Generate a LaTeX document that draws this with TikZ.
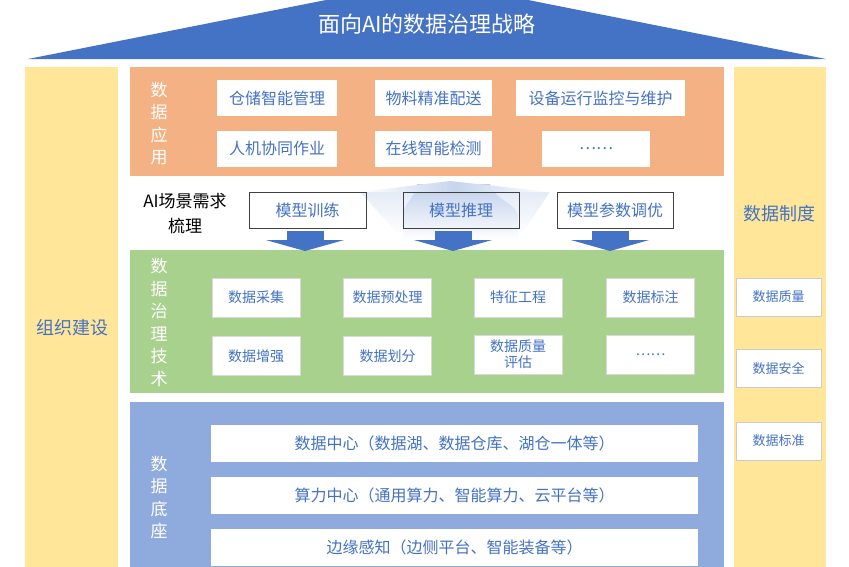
\documentclass[tikz,border=0pt]{standalone}
\usepackage{fontspec}
\setmainfont{Noto Sans CJK SC}
\usepackage{tikz}
\usetikzlibrary{
    arrows.meta,
    calc,
    positioning
}
\definecolor{roofblue}{HTML}{4472C4}
\definecolor{apporange}{HTML}{F4B183}
\definecolor{govgreen}{HTML}{A9D18E}
\definecolor{baseblue}{HTML}{8FAADC}
\definecolor{sideyellow}{HTML}{FFE699}
\definecolor{textblue}{HTML}{4472C4}
\definecolor{glowblue}{HTML}{B4C7E7}

\begin{document}
\begin{tikzpicture}[x=1pt, y=-1pt,
    appbox/.style={fill=white, text=textblue, minimum height=36pt, inner sep=0pt, font=\fontsize{16}{18}\selectfont},
    modelbox/.style={draw=black!75, line width=1pt, text=textblue, minimum width=116pt, minimum height=36pt, inner sep=0pt, font=\fontsize{16}{18}\selectfont},
    techbox/.style={fill=white, draw=black!15, text=textblue, minimum width=88pt, minimum height=39pt, inner sep=0pt, align=center, font=\fontsize{14}{16}\selectfont},
    basebar/.style={fill=white, text=textblue, minimum width=487pt, minimum height=37pt, inner sep=0pt, font=\fontsize{16}{18}\selectfont},
    rulebox/.style={fill=white, draw=black!20, text=textblue, minimum width=85pt, minimum height=38pt, inner sep=0pt, font=\fontsize{13}{15}\selectfont},
    sidelabel/.style={text=textblue, font=\fontsize{18}{20}\selectfont},
    layerlabel/.style={text=white, align=center, inner sep=0pt, font=\fontsize{17}{22.5}\selectfont},
    bigarrow/.style={roofblue, line width=37pt, -{Triangle[width=78pt, length=11pt]}}
]
    \useasboundingbox (0,0) rectangle (849,566);
    \fill[white] (0,0) rectangle (849,566);
    \clip (0,0) rectangle (849,566);

    \fill[roofblue] (28,59) -- (427,-20) -- (826,59) -- cycle;
    \node[text=white, font=\fontsize{22}{24}\selectfont] (title) at (427,24) {面向AI的数据治理战略};

    \fill[sideyellow] (25,67) rectangle (118,600);
    \fill[sideyellow] (734,67) rectangle (826,600);
    \node[sidelabel] (org) at (72,328) {组织建设};
    \node[sidelabel] (rules) at (779,214) {数据制度};
    \node[rulebox] (quality) at (778.5,297) {数据质量};
    \node[rulebox] (security) at (778.5,368) {数据安全};
    \node[rulebox] (standard) at (778.5,441) {数据标准};

    \fill[apporange] (130,67) rectangle (724,176);
    \node[layerlabel] (applab) at (159,123.5) {数\\据\\应\\用};
    \node[appbox, minimum width=120pt] (storage) at (277,98) {仓储智能管理};
    \node[appbox, minimum width=117pt] (material) at (433.5,98) {物料精准配送};
    \node[appbox, minimum width=169pt] (device) at (600.5,98) {设备运行监控与维护};
    \node[appbox, minimum width=120pt] (humanbot) at (277,148.5) {人机协同作业};
    \node[appbox, minimum width=117pt] (inspect) at (433.5,148.5) {在线智能检测};
    \node[appbox, minimum width=108pt] (appmore) at (596,148.5) {……};

    \shade[top color=glowblue!35, bottom color=white] (360,192) -- (550,192) -- (520,236) -- (400,236) -- cycle;
    \shade[top color=glowblue!85, bottom color=white] (417,184) .. controls (414,200) and (403,204) .. (403,216) -- (403,240) -- (518,240) -- (518,216) .. controls (518,204) and (494,200) .. (490,184) -- cycle;
    \shade[left color=white, right color=white, middle color=glowblue!75] (360,192) -- (450,181) -- (550,192) -- cycle;

    \node[align=center, font=\fontsize{17}{25}\selectfont] (scene) at (185,214) {AI场景需求\\梳理};
    \node[modelbox, minimum width=117pt] (train) at (307.5,210) {模型训练};
    \node[modelbox] (infer) at (461,210) {模型推理};
    \node[modelbox] (tune) at (615,210) {模型参数调优};

    \fill[govgreen] (130,250) rectangle (724,393);
    \node[layerlabel] (govlab) at (159,322.5) {数\\据\\治\\理\\技\\术};
    \node[techbox] (collect) at (256,297.5) {数据采集};
    \node[techbox] (prep) at (387.5,297.5) {数据预处理};
    \node[techbox] (feature) at (518,297.5) {特征工程};
    \node[techbox] (label) at (650.5,297.5) {数据标注};
    \node[techbox] (augment) at (256,356) {数据增强};
    \node[techbox] (split) at (387.5,356) {数据划分};
    \node[techbox] (assess) at (518,354.5) {数据质量\\评估};
    \node[techbox] (techmore) at (650.5,354.5) {……};

    \coordinate (g1) at (305,251);
    \coordinate (g2) at (453,251);
    \coordinate (g3) at (610,251);
    \draw[bigarrow, shorten <=2pt] (train.south -| g1) -- (g1);
    \draw[bigarrow, shorten <=2pt] (infer.south -| g2) -- (g2);
    \draw[bigarrow, shorten <=2pt] (tune.south -| g3) -- (g3);

    \fill[baseblue] (130,402) rectangle (724,600);
    \node[layerlabel] (baselab) at (159,497.5) {数\\据\\底\\座};
    \node[basebar] (datacenter) at (454.5,443) {数据中心（数据湖、数据仓库、湖仓一体等）};
    \node[basebar] (compute) at (454.5,495.5) {算力中心（通用算力、智能算力、云平台等）};
    \node[basebar] (edge) at (454.5,547) {边缘感知（边侧平台、智能装备等）};
\end{tikzpicture}
\end{document}
